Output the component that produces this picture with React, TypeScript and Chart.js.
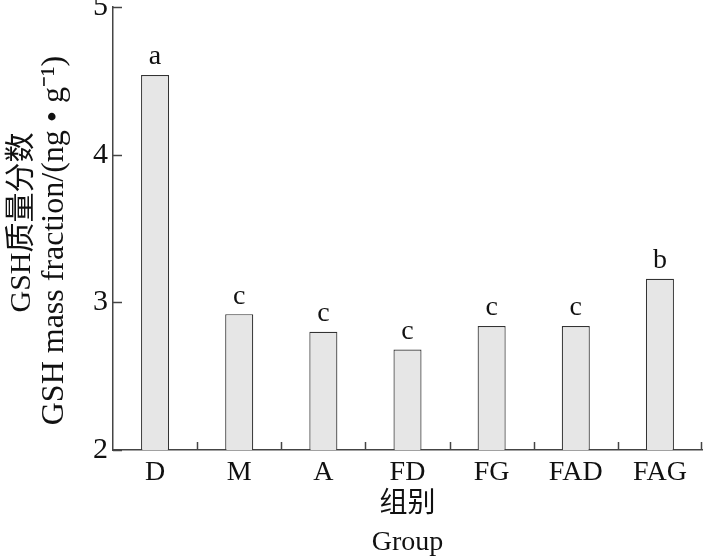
import React, { useEffect, useRef } from "react";
import { Chart, registerables } from "chart.js";

Chart.register(...registerables);

const categories = ["D", "M", "A", "FD", "FG", "FAD", "FAG"];
const values = [4.54, 2.92, 2.80, 2.68, 2.84, 2.84, 3.16];
const letters = ["a", "c", "c", "c", "c", "c", "b"];
const yTickValues = [2, 3, 4, 5];
const yTitle = ["GSH质量分数", "GSH mass fraction/(ng • g⁻¹)"];
const xTitle = ["组别", "Group"];

const FONT = "'Liberation Serif', 'Noto Sans CJK SC', serif";
const AXIS = "#444";

const decorPlugin = {
  id: "decor",
  afterDatasetsDraw(chart: any) {
    const ctx = chart.ctx;
    const xs = chart.scales.x;
    const ys = chart.scales.y;
    const area = chart.chartArea;
    ctx.save();
    ctx.strokeStyle = AXIS;
    ctx.lineWidth = 1.5;
    const n = categories.length;
    const step = xs.width / n;
    for (let i = 1; i < n; i++) {
      const x = Math.round(xs.getPixelForValue(i) - step / 2) + 0.5;
      ctx.beginPath();
      ctx.moveTo(x, area.bottom);
      ctx.lineTo(x, area.bottom - 8);
      ctx.stroke();
    }
    {
      const x = Math.round(area.right) - 0.5;
      ctx.beginPath();
      ctx.moveTo(x, area.bottom);
      ctx.lineTo(x, area.bottom - 8);
      ctx.stroke();
    }
    yTickValues.forEach((v) => {
      const y = Math.round(ys.getPixelForValue(v)) + 0.5;
      ctx.beginPath();
      ctx.moveTo(area.left, y);
      ctx.lineTo(area.left + 9, y);
      ctx.stroke();
    });
    const meta = chart.getDatasetMeta(0);
    ctx.fillStyle = "#111";
    ctx.font = "28px " + FONT;
    ctx.textAlign = "center";
    ctx.textBaseline = "bottom";
    meta.data.forEach((bar: any, i: number) => {
      ctx.fillText(letters[i], bar.x, bar.y - 4);
    });

    // axis titles
    ctx.textBaseline = "middle";
    ctx.font = "28px " + FONT;
    const cx = (area.left + area.right) / 2;
    ctx.fillText(xTitle[0], cx, area.bottom + 55);
    ctx.fillText(xTitle[1], cx, area.bottom + 93);

    ctx.font = "30px " + FONT;
    ctx.save();
    ctx.translate(22, (area.top + area.bottom) / 2 - 6);
    ctx.rotate(-Math.PI / 2);
    ctx.fillText(yTitle[0], 0, 0);
    ctx.restore();
    ctx.font = "32px " + FONT;
    ctx.save();
    ctx.translate(55, (area.top + area.bottom) / 2 + 12);
    ctx.rotate(-Math.PI / 2);
    ctx.fillText(yTitle[1], 0, 0);
    ctx.restore();
    ctx.restore();
  },
};

export default function App() {
  const ref = useRef<HTMLCanvasElement>(null);
  useEffect(() => {
    const chart = new Chart(ref.current!, {
      type: "bar",
      data: {
        labels: categories,
        datasets: [
          {
            data: values,
            backgroundColor: "#e6e6e6",
            borderColor: "#333",
            borderWidth: 1.2,
            barPercentage: 1 / 3,
            categoryPercentage: 1,
          },
        ],
      },
      options: {
        responsive: false,
        animation: false,
        layout: { padding: { top: 7, right: 3, left: 0, bottom: 0 } },
        plugins: { legend: { display: false }, tooltip: { enabled: false } },
        scales: {
          x: {
            grid: { display: false, drawTicks: false },
            border: { display: true, color: AXIS, width: 1.5 },
            ticks: { color: "#111", font: { family: FONT, size: 28 }, padding: 6, maxRotation: 0 },
            title: { display: false },
            afterFit: (s: any) => {
              s.height = 109;
              s.paddingLeft = 0;
              s.paddingRight = 0;
            },
          },
          y: {
            min: 2,
            max: 5,
            afterBuildTicks: (s: any) => {
              s.ticks = yTickValues.map((v) => ({ value: v }));
            },
            grid: { display: false, drawTicks: false },
            border: { display: true, color: AXIS, width: 1.5 },
            ticks: { color: "#111", font: { family: FONT, size: 30 }, padding: 5 },
            title: { display: false },
            afterFit: (s: any) => {
              s.width = 113;
              s.paddingTop = 0;
              s.paddingBottom = 0;
            },
          },
        },
      },
      plugins: [decorPlugin],
    });
    return () => chart.destroy();
  }, []);
  return (
    <div style={{ position: "absolute", left: 0, top: 0, width: 705, height: 559, background: "#fff" }}>
      <canvas ref={ref} width={705} height={559} />
    </div>
  );
}
